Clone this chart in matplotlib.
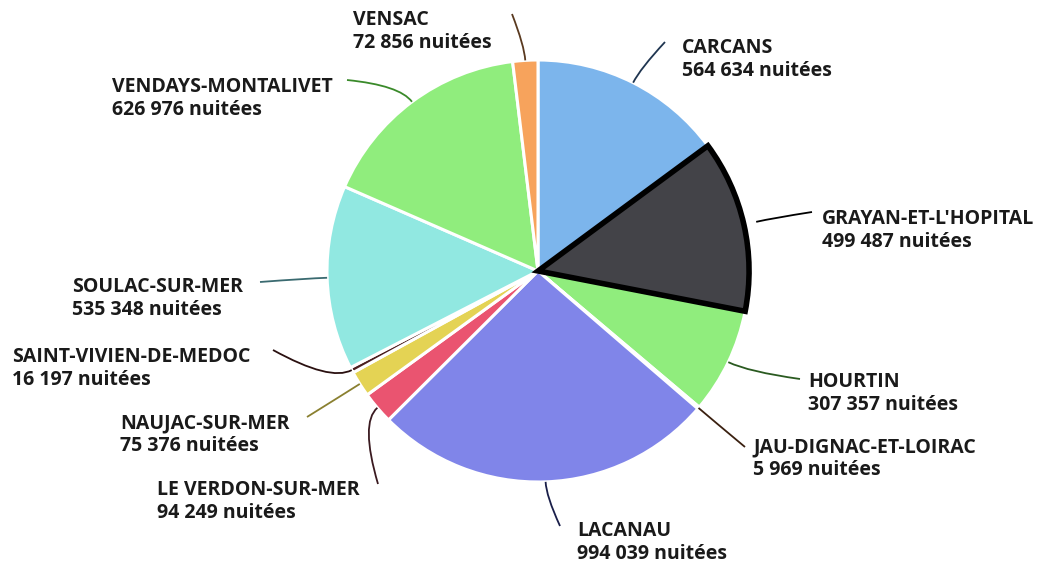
import numpy as np
import matplotlib
matplotlib.use("Agg")
import matplotlib.pyplot as plt
from matplotlib.path import Path
from matplotlib.patches import PathPatch

communes = ["CARCANS", "GRAYAN-ET-L'HOPITAL", "HOURTIN", "JAU-DIGNAC-ET-LOIRAC",
            "LACANAU", "LE VERDON-SUR-MER", "NAUJAC-SUR-MER", "SAINT-VIVIEN-DE-MEDOC",
            "SOULAC-SUR-MER", "VENDAYS-MONTALIVET", "VENSAC"]
nuitees = [564634, 499487, 307357, 5969, 994039, 94249, 75376, 16197, 535348, 626976, 72856]
value_labels = ["564 634 nuitées", "499 487 nuitées", "307 357 nuitées", "5 969 nuitées",
                "994 039 nuitées", "94 249 nuitées", "75 376 nuitées", "16 197 nuitées",
                "535 348 nuitées", "626 976 nuitées", "72 856 nuitées"]

colors = ["#7cb5ec", "#434348", "#90ed7d", "#5a3422", "#8085e9", "#ea5470",
          "#e4d354", "#4a1f1f", "#91e8e1", "#90ed7d", "#f7a35c"]
line_colors = ["#1f3550", "#000000", "#2a5a20", "#3a2010", "#1a1f4a", "#3a1a20",
               "#8a8030", "#2a1010", "#3a6a70", "#3a8a2a", "#5a3a20"]

W, H = 1047, 562
cx, cy_pix, R = 538, 271, 211
cy = H - cy_pix

# label layout (pixel coords: left x, first baseline y, connector end x, y)
label_pos = {
    "CARCANS": (682, 53, 665, 42),
    "GRAYAN-ET-L'HOPITAL": (822, 224, 812, 212),
    "HOURTIN": (808, 387, 800, 379),
    "JAU-DIGNAC-ET-LOIRAC": (753, 452, 745, 447),
    "LACANAU": (577, 536, 560, 526),
    "LE VERDON-SUR-MER": (157, 495, 378, 484),
    "NAUJAC-SUR-MER": (120, 428, 307, 417),
    "SAINT-VIVIEN-DE-MEDOC": (12, 362, 273, 350),
    "SOULAC-SUR-MER": (72, 292, 260, 282),
    "VENDAYS-MONTALIVET": (112, 92, 347, 80),
    "VENSAC": (353, 25, 512, 14),
}

fig = plt.figure(figsize=(W / 100, H / 100), dpi=100)
ax = fig.add_axes([0, 0, 1, 1])

explode = [0.06 if c.startswith("GRAYAN") else 0 for c in communes]
wedges, _ = ax.pie(nuitees, colors=colors, startangle=90, counterclock=False,
                   center=(cx, cy), radius=R, explode=explode,
                   wedgeprops=dict(edgecolor="white", linewidth=2.2))
for i, w in enumerate(wedges):
    if communes[i].startswith("GRAYAN"):
        w.set_edgecolor("black")
        w.set_linewidth(4)
        w.set_zorder(3)

ax.set_xlim(0, W)
ax.set_ylim(0, H)
ax.set_aspect("equal")
ax.axis("off")

total = float(sum(nuitees))
cum = 0.0
for i, (name, v) in enumerate(zip(communes, nuitees)):
    mid = 90 - 360 * (cum + v / 2) / total
    cum += v
    a = np.deg2rad(mid)
    off = explode[i] * R
    sx = cx + (R + off) * np.cos(a)
    sy = cy + (R + off) * np.sin(a)
    tx, ty_pix, ex, ey_pix = label_pos[name]
    ey = H - ey_pix
    d = np.hypot(ex - sx, ey - sy)
    c1 = (sx + np.cos(a) * d * 0.3, sy + np.sin(a) * d * 0.3)
    path = Path([(sx, sy), c1, (ex, ey)], [Path.MOVETO, Path.CURVE3, Path.CURVE3])
    ax.add_patch(PathPatch(path, fill=False, edgecolor=line_colors[i], linewidth=1.3, zorder=4))
    ax.text(tx, H - ty_pix, name, fontsize=14, fontweight="bold", family="Open Sans",
            color="#1a1a1a", va="baseline", ha="left")
    ax.text(tx, H - ty_pix - 23, value_labels[i], fontsize=14, fontweight="bold",
            family="Open Sans", color="#1a1a1a", va="baseline", ha="left")

fig.savefig("out.png", dpi=100)
